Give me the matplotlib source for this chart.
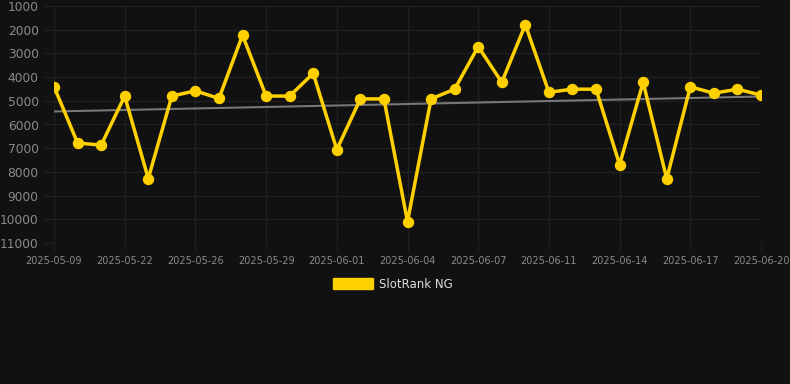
import matplotlib
matplotlib.use("Agg")

import numpy as np
import matplotlib.pyplot as plt
from matplotlib.patches import Patch

# dane
ranks = [
    4400, 6780, 6870, 4800, 8280, 4800, 4580, 4900, 2230, 4800, 4800,
    3840, 7060, 4920, 4920, 10100, 4920, 4510, 2710, 4220, 1790, 4640,
    4510, 4510, 7690, 4220, 8290, 4410, 4680, 4510, 4760
]
tick_labels = [
    "2025-05-09", "2025-05-22", "2025-05-26", "2025-05-29", "2025-06-01",
    "2025-06-04", "2025-06-07", "2025-06-11", "2025-06-14", "2025-06-17",
    "2025-06-20"
]
trend_start = 5450
trend_end = 4820
series_name = "SlotRank NG"

BG = "#111111"
GRID = "#202020"
TXT = "#8a8a8a"
GOLD = "#ffd000"

x = np.arange(len(ranks))
tick_pos = x[::3]

fig = plt.figure(figsize=(7.9, 3.84), dpi=100, facecolor=BG)
ax = fig.add_axes([54 / 790, 1 - 243 / 384, (761 - 54) / 790, (243 - 6) / 384])
ax.set_facecolor(BG)

ax.plot([x[0], x[-1]], [trend_start, trend_end], color="#777777", linewidth=1.5, zorder=2)
ax.plot(x, ranks, color=GOLD, linewidth=2.5, marker="o", markersize=7.2,
        markerfacecolor=GOLD, markeredgecolor=GOLD, zorder=3)

ax.set_xlim(0, len(ranks) - 1)
ax.set_ylim(11000, 1000)
ax.set_yticks(np.arange(1000, 11001, 1000))
ax.set_xticks(tick_pos)
ax.set_xticklabels(tick_labels)

ax.grid(True, color=GRID, linewidth=1)
ax.set_axisbelow(True)
for s in ax.spines.values():
    s.set_visible(False)

ax.tick_params(axis="y", colors=GRID, labelcolor=TXT, labelsize=8.8, length=8, pad=3)
ax.tick_params(axis="x", colors=GRID, labelcolor=TXT, labelsize=7, length=6, pad=3)

fig.legend(handles=[Patch(facecolor=GOLD, edgecolor=GOLD, label=series_name)],
           loc="center", bbox_to_anchor=(0.497, 1 - 284 / 384), frameon=False,
           labelcolor="#dddddd", fontsize=8.5, handlelength=3.4, handleheight=1.0,
           handletextpad=0.5)

fig.savefig("out.png", dpi=100, facecolor=BG)
